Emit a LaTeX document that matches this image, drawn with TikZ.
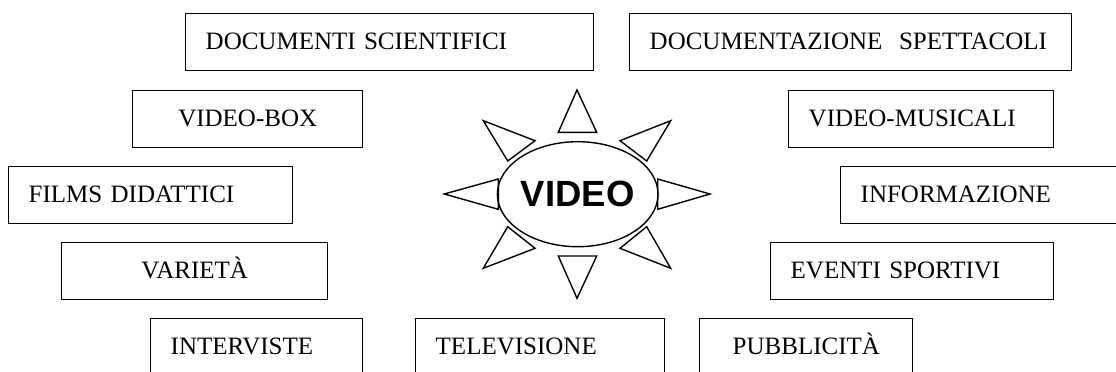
\documentclass[tikz,border=0pt]{standalone}
\usepackage{fontspec}
\setmainfont{Liberation Serif}
\setsansfont{Liberation Sans}
\usetikzlibrary{shapes.geometric}

\begin{document}
\begin{tikzpicture}[x=1pt, y=-1pt, line width=1.4pt,
    box/.style={draw, anchor=north west, minimum height=57pt,
                inner xsep=20pt, inner ysep=0pt, align=left,
                text height=20pt, text depth=6.4pt,
                font=\fontsize{25}{30}\selectfont},
    ray/.style={draw, line join=miter}]
  \path[use as bounding box, clip] (0,0) rectangle (1116,372);

  % Left column of topics
  \node[box, text width=368pt] (docsci) at (185,13) {DOCUMENTI SCIENTIFICI};
  \node[box, text width=190pt, align=center] (vbox) at (132,90) {VIDEO-BOX};
  \node[box, text width=244pt] (films) at (8,166) {FILMS DIDATTICI};
  \node[box, text width=226pt, align=center] (varieta) at (61,242) {VARIETÀ};
  \node[box, text width=172pt] (interv) at (150,318) {INTERVISTE};

  % Right column of topics
  \node[box, text width=402pt] (docspet) at (629,13) {DOCUMENTAZIONE\ \ SPETTACOLI};
  \node[box, text width=225pt] (vmus) at (788,90) {VIDEO-MUSICALI};
  \node[box, text width=240pt] (info) at (840,166) {INFORMAZIONE};
  \node[box, text width=243pt] (eventi) at (770,242) {EVENTI SPORTIVI};

  % Bottom row
  \node[box, text width=209pt] (telev) at (415,318) {TELEVISIONE};
  \node[box, text width=173pt] (pubbl) at (699,318) {\hspace{13pt}PUBBLICITÀ};

  % Sun in the middle
  \node[draw, ellipse, minimum width=133pt, minimum height=105pt, inner sep=0pt,
        font=\sffamily\bfseries\fontsize{36.5}{40}\selectfont] (video) at (577.7,194.2) {VIDEO};

  % Rays
  \foreach \ax/\ay/\bx/\by/\cx/\cy in {577/90/558.3/132.3/596.7/132.3,
                                       577/298.3/558.3/256/596.7/256,
                                       444.3/194/498.3/179/498.3/209.3,
                                       710/194/657.7/179/657.7/209.3,
                                       483.3/120.7/535/140.7/507.7/161,
                                       670.7/120.7/620/140.7/646.7/161,
                                       483.3/268.3/535/248.3/507.7/226.7,
                                       670.7/268.3/620/248.3/646.7/226.7}
    \draw[ray] (\ax,\ay) -- (\bx,\by) -- (\cx,\cy) -- cycle;
\end{tikzpicture}
\end{document}
